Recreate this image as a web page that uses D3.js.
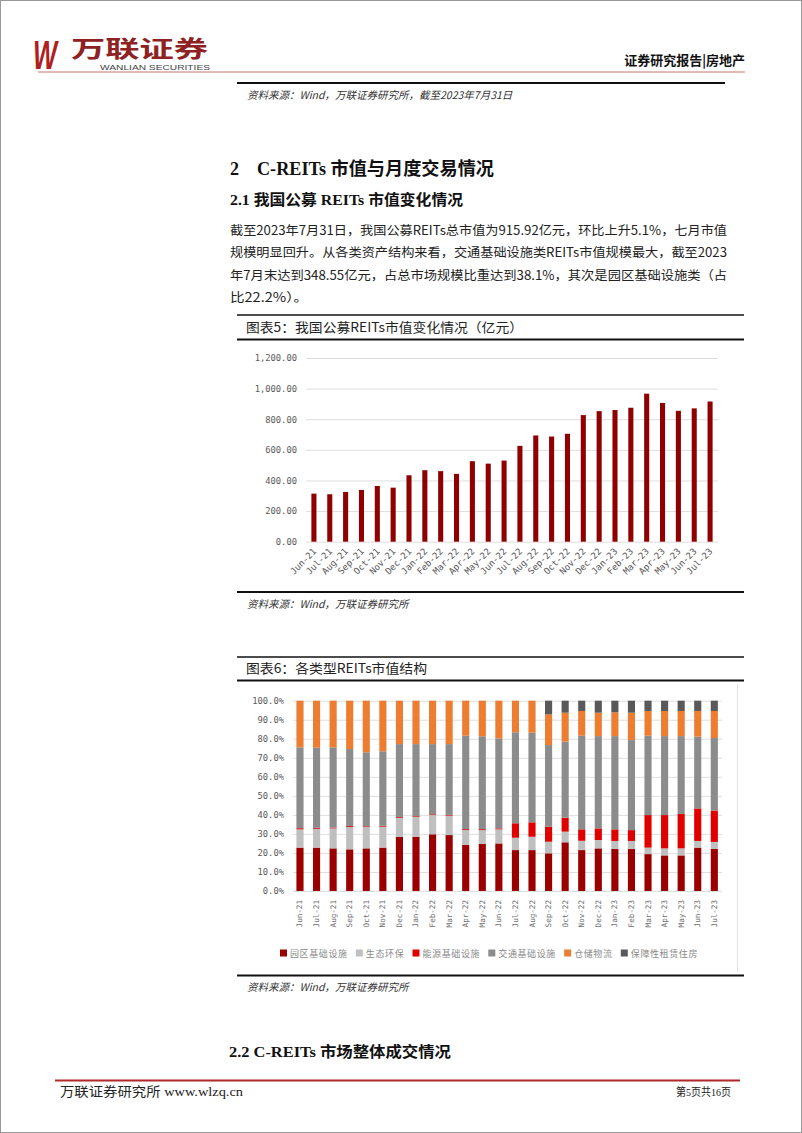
<!DOCTYPE html>
<html lang="zh">
<head>
<meta charset="UTF-8">
<title>C-REITs 市值与月度交易情况</title>
<script src="https://cdn.jsdelivr.net/npm/d3@7"></script>
<style>
  html, body { margin: 0; padding: 0; background: #fff; }
  svg { display: block; }
  .cn { font-family: "Liberation Serif", "Noto Sans CJK SC", serif; }
  .mono { font-family: "DejaVu Sans Mono", monospace; }
</style>
</head>
<body>
<div id="page"></div>
<script>
// 月份
var months = ["Jun-21", "Jul-21", "Aug-21", "Sep-21", "Oct-21", "Nov-21", "Dec-21",
  "Jan-22", "Feb-22", "Mar-22", "Apr-22", "May-22", "Jun-22", "Jul-22", "Aug-22",
  "Sep-22", "Oct-22", "Nov-22", "Dec-22", "Jan-23", "Feb-23", "Mar-23", "Apr-23",
  "May-23", "Jun-23", "Jul-23"];

// 图表5：公募REITs市值（亿元）
var marketCap = [314, 310, 325, 338, 364, 353, 434, 467, 461, 443, 526, 510, 530,
  626, 694, 687, 705, 827, 853, 860, 875, 967, 906, 855, 871, 915.92];
var capTicks = [0, 200, 400, 600, 800, 1000, 1200];

// 图表6：各类型REITs市值占比（%）
var typeNames = ["园区基础设施", "生态环保", "能源基础设施", "交通基础设施", "仓储物流", "保障性租赁住房"];
var parkShare = [22.8, 22.8, 22.4, 21.9, 22.4, 22.8, 28.4, 28.5, 29.8, 29.4, 24.2, 24.7, 25.0,
  21.5, 21.5, 19.8, 25.6, 21.5, 22.4, 22.1, 22.1, 19.4, 18.7, 18.7, 22.8, 22.2];
var ecoShare = [9.6, 9.9, 10.5, 11.7, 11.2, 11.0, 10.1, 10.4, 10.1, 10.2, 7.8, 7.3, 7.4,
  6.5, 7.0, 6.1, 5.6, 4.9, 4.4, 4.2, 4.2, 3.4, 3.7, 3.7, 3.5, 3.6];
var energyShare = [0.6, 0.5, 0.4, 0.5, 0.4, 0.5, 0.4, 0.4, 0.4, 0.4, 0.5, 0.5, 0.5,
  7.6, 7.6, 7.9, 7.3, 6.0, 6.1, 6.1, 5.7, 17.1, 17.5, 18.1, 17.1, 16.5];
var trafficShare = [42.5, 42.1, 42.2, 40.5, 38.9, 39.1, 38.3, 37.9, 36.9, 37.2, 49.1, 48.8, 47.3,
  47.8, 47.1, 42.9, 40.0, 49.2, 48.5, 49.0, 47.3, 41.7, 41.5, 40.9, 37.7, 38.1];
var storageShare = [24.5, 24.7, 24.5, 25.4, 27.1, 26.6, 22.8, 22.8, 22.8, 22.8, 18.4, 18.7, 19.8,
  16.6, 16.8, 16.1, 15.2, 13.0, 12.3, 12.5, 14.4, 13.0, 13.2, 13.2, 13.5, 14.2];
var rentalShare = [0, 0, 0, 0, 0, 0, 0, 0, 0, 0, 0, 0, 0,
  0, 0, 7.2, 6.3, 5.4, 6.3, 6.1, 6.3, 5.4, 5.4, 5.4, 5.4, 5.4];
var shareTicks = [0, 0.1, 0.2, 0.3, 0.4, 0.5, 0.6, 0.7, 0.8, 0.9, 1.0];

var typeColors = ["#9a0000", "#bfbfbf", "#e00000", "#8c8c8c", "#ed7d31", "#595959"];

var WIDTH = 802, HEIGHT = 1133;
var LABELCOLOR = "#595959", GRIDCOLOR = "#dedede";

var svg = d3.select("#page").append("svg")
  .attr("width", WIDTH).attr("height", HEIGHT);

// 页面边框
svg.append("rect").attr("x", 0.5).attr("y", 0.5)
  .attr("width", WIDTH - 1).attr("height", HEIGHT - 1)
  .attr("fill", "#fff").attr("stroke", "#9a9a9a");

// ---- 页眉 ----
svg.append("text").attr("x", 33).attr("y", 69)
  .attr("font-family", "Liberation Sans, sans-serif").attr("font-weight", "bold")
  .attr("font-style", "italic").attr("font-size", 40).attr("fill", "#b01e1e")
  .attr("textLength", 24).attr("lengthAdjust", "spacingAndGlyphs").text("W");
svg.append("text").attr("x", 71).attr("y", 57)
  .attr("font-family", "Noto Sans CJK SC").attr("font-weight", "bold")
  .attr("font-size", 23).attr("fill", "#8e2222")
  .attr("textLength", 137).attr("lengthAdjust", "spacingAndGlyphs").text("万联证券");
svg.append("text").attr("x", 100).attr("y", 70)
  .attr("font-family", "Liberation Sans, sans-serif").attr("font-size", 7.5).attr("fill", "#444")
  .attr("textLength", 110).attr("lengthAdjust", "spacingAndGlyphs").text("WANLIAN SECURITIES");
svg.append("text").attr("x", 745).attr("y", 65).attr("text-anchor", "end")
  .attr("font-family", "Noto Sans CJK SC").attr("font-weight", "bold")
  .attr("font-size", 13).attr("fill", "#111").text("证券研究报告|房地产");
svg.append("line").attr("x1", 38).attr("x2", 745).attr("y1", 72).attr("y2", 72)
  .attr("stroke", "#d9a3a3").attr("stroke-width", 1.5);

// 上一图表的来源
hline(83, 237, 725, 2);
sourceText(99, "资料来源：Wind，万联证券研究所，截至2023年7月31日");

// ---- 标题与正文 ----
svg.append("text").attr("class", "cn").attr("x", 230).attr("y", 175)
  .attr("font-weight", "bold").attr("font-size", 18).attr("fill", "#111")
  .text("2");
svg.append("text").attr("class", "cn").attr("x", 257).attr("y", 175)
  .attr("font-weight", "bold").attr("font-size", 18).attr("fill", "#111")
  .attr("textLength", 237).attr("lengthAdjust", "spacingAndGlyphs")
  .text("C-REITs 市值与月度交易情况");
svg.append("text").attr("class", "cn").attr("x", 230).attr("y", 205)
  .attr("font-weight", "bold").attr("font-size", 15).attr("fill", "#111")
  .attr("textLength", 233).attr("lengthAdjust", "spacingAndGlyphs")
  .text("2.1  我国公募 REITs 市值变化情况");

var paraLines = [
  "截至2023年7月31日，我国公募REITs总市值为915.92亿元，环比上升5.1%，七月市值",
  "规模明显回升。从各类资产结构来看，交通基础设施类REITs市值规模最大，截至2023",
  "年7月末达到348.55亿元，占总市场规模比重达到38.1%，其次是园区基础设施类（占",
  "比22.2%）。"
];
paraLines.forEach(function(s, i) {
  var t = svg.append("text").attr("x", 230).attr("y", 235 + i * 22.4)
    .attr("font-family", "Noto Sans CJK SC").attr("font-size", 12.5)
    .attr("fill", "#222").text(s);
  if (i < 3) t.attr("textLength", 497).attr("lengthAdjust", "spacingAndGlyphs");
  else t.attr("textLength", 78).attr("lengthAdjust", "spacingAndGlyphs");
});

// ---- 图表5 ----
hline(315, 237, 744, 1.5);
chartTitle(332, "图表5：我国公募REITs市值变化情况（亿元）", 277);
hline(339.5, 237, 744, 2);

var x1 = d3.scaleBand().domain(months).range([306, 718]).paddingInner(0.68).paddingOuter(0.34);
var y1 = d3.scaleLinear().domain([0, 1200]).range([541.7, 358]);

var g1 = svg.append("g");
g1.append("g").attr("transform", "translate(306,0)")
  .call(d3.axisLeft(y1).tickValues(capTicks).tickSize(-412).tickFormat(d3.format(",.2f")))
  .call(styleGridAxis);

g1.selectAll("rect.cap").data(marketCap).enter().append("rect")
  .attr("class", "cap")
  .attr("x", function(d, i) { return x1(months[i]); })
  .attr("width", x1.bandwidth())
  .attr("y", function(d) { return y1(d); })
  .attr("height", function(d) { return y1(0) - y1(d); })
  .attr("fill", "#8f0000");

g1.selectAll("text.xl").data(months).enter().append("text")
  .attr("class", "mono")
  .attr("font-size", 9).attr("fill", LABELCOLOR).attr("text-anchor", "end")
  .attr("transform", function(d) {
    return "translate(" + (x1(d) + x1.bandwidth() / 2 + 3) + ",552) rotate(-45)";
  })
  .text(function(d) { return d; });

hline(592, 237, 744, 2);
sourceText(608, "资料来源：Wind，万联证券研究所");

// ---- 图表6 ----
hline(657, 237, 744, 1.5);
chartTitle(673, "图表6：各类型REITs市值结构", 181);
hline(680.5, 237, 744, 2);

svg.append("line").attr("x1", 737.5).attr("x2", 737.5).attr("y1", 684).attr("y2", 972)
  .attr("stroke", "#e3e3e3");

var shareTable = months.map(function(m, i) {
  var row = { month: m };
  var cols = [parkShare, ecoShare, energyShare, trafficShare, storageShare, rentalShare];
  var total = d3.sum(cols, function(c) { return c[i]; });
  typeNames.forEach(function(n, k) { row[n] = cols[k][i] / total; });
  return row;
});
var stacked = d3.stack().keys(typeNames)(shareTable);

var x2 = d3.scaleBand().domain(months).range([291.7, 722.6]).paddingInner(0.57).paddingOuter(0.285);
var y2 = d3.scaleLinear().domain([0, 1]).range([891, 700.7]);
var color2 = d3.scaleOrdinal().domain(typeNames).range(typeColors);

var g2 = svg.append("g");
g2.append("g").attr("transform", "translate(293,0)")
  .call(d3.axisLeft(y2).tickValues(shareTicks).tickSize(-429).tickFormat(d3.format(".1%")))
  .call(styleGridAxis);

g2.selectAll("g.layer").data(stacked).enter().append("g")
  .attr("class", "layer")
  .attr("fill", function(d) { return color2(d.key); })
  .selectAll("rect").data(function(d) { return d; }).enter().append("rect")
  .attr("x", function(d) { return x2(d.data.month); })
  .attr("width", x2.bandwidth())
  .attr("y", function(d) { return y2(d[1]); })
  .attr("height", function(d) { return Math.max(0, y2(d[0]) - y2(d[1])); });

g2.selectAll("text.xl").data(months).enter().append("text")
  .attr("class", "mono")
  .attr("font-size", 7.6).attr("fill", "#6f6f6f").attr("text-anchor", "end")
  .attr("dominant-baseline", "central")
  .attr("transform", function(d) {
    return "translate(" + (x2(d) + x2.bandwidth() / 2) + ",900) rotate(-90)";
  })
  .text(function(d) { return d; });

// 图例
var legend = g2.append("g").attr("class", "legend");
var items = legend.selectAll("g").data(typeNames).enter().append("g");
items.append("rect").attr("width", 7).attr("height", 7).attr("y", 949.5)
  .attr("fill", function(d) { return color2(d); });
items.append("text").attr("x", 10).attr("y", 956.5)
  .attr("font-family", "Noto Sans CJK SC").attr("font-size", 9)
  .attr("letter-spacing", 0.6).attr("fill", "#8a8a8a")
  .text(function(d) { return d; });
var widths = [];
items.each(function() { widths.push(10 + d3.select(this).select("text").node().getComputedTextLength()); });
var gap = Math.max(4, (418 - d3.sum(widths)) / (widths.length - 1));
var cx = 280;
items.attr("transform", function(d, i) {
  var t = "translate(" + cx + ",0)";
  cx += widths[i] + gap;
  return t;
});

hline(975.5, 237, 744, 2);
sourceText(991, "资料来源：Wind，万联证券研究所");

// ---- 下一节标题与页脚 ----
svg.append("text").attr("class", "cn").attr("x", 229).attr("y", 1057)
  .attr("font-weight", "bold").attr("font-size", 15).attr("fill", "#111")
  .attr("textLength", 222).attr("lengthAdjust", "spacingAndGlyphs")
  .text("2.2  C-REITs 市场整体成交情况");
svg.append("line").attr("x1", 55).attr("x2", 740).attr("y1", 1080.5).attr("y2", 1080.5)
  .attr("stroke", "#b02828").attr("stroke-width", 2);
svg.append("text").attr("class", "cn").attr("x", 60).attr("y", 1096)
  .attr("font-size", 13).attr("fill", "#222")
  .attr("textLength", 183).attr("lengthAdjust", "spacingAndGlyphs")
  .text("万联证券研究所 www.wlzq.cn");
svg.append("text").attr("class", "cn").attr("x", 731).attr("y", 1096).attr("text-anchor", "end")
  .attr("font-size", 11).attr("fill", "#222")
  .attr("textLength", 55).attr("lengthAdjust", "spacingAndGlyphs")
  .text("第5页共16页");

// 工具函数
function hline(y, xa, xb, w) {
  svg.append("line").attr("x1", xa).attr("x2", xb).attr("y1", y).attr("y2", y)
    .attr("stroke", "#111").attr("stroke-width", w);
}
function sourceText(y, s) {
  svg.append("text").attr("x", 247).attr("y", y)
    .attr("font-family", "Noto Sans CJK SC").attr("font-size", 10.5)
    .attr("font-style", "italic").attr("fill", "#333").text(s);
}
function chartTitle(y, s, len) {
  svg.append("text").attr("x", 246).attr("y", y)
    .attr("font-family", "Noto Sans CJK SC").attr("font-size", 13)
    .attr("fill", "#222").attr("textLength", len).attr("lengthAdjust", "spacingAndGlyphs")
    .text(s);
}
function styleGridAxis(g) {
  g.select(".domain").remove();
  g.selectAll(".tick line").attr("stroke", GRIDCOLOR);
  g.selectAll(".tick text").attr("class", "mono").attr("font-size", 8.8)
    .attr("fill", LABELCOLOR).attr("x", -9);
}
</script>
</body>
</html>
